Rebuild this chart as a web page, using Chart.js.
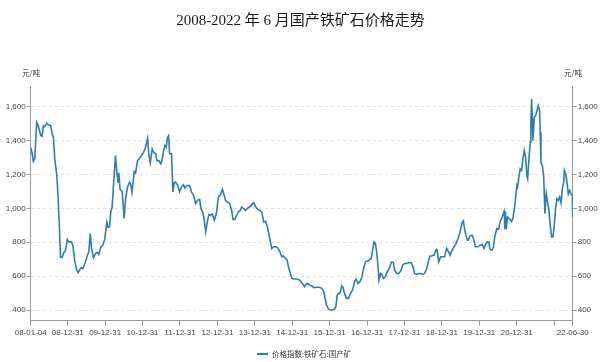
<!DOCTYPE html>
<html lang="zh-CN">
<head>
    <meta charset="UTF-8">
    <title>2008-2022 年 6 月国产铁矿石价格走势</title>
    <script src="https://cdn.jsdelivr.net/npm/chart.js"></script>
    <style>
        body { margin: 0; background: #fff; }
        #wrap { position: relative; width: 601px; height: 362px; overflow: hidden; }
        #chart { position: absolute; left: 0; top: 0; }
        .title { position: absolute; left: 0; top: 12px; width: 601px; text-align: center;
                 font: 15px/16px "Liberation Serif", "Noto Sans CJK SC", serif; color: #1a1a1a; }
        .unit { position: absolute; top: 69px; font: 7.5px/8px "Noto Sans CJK SC", sans-serif; color: #333; }
        .legend-line { position: absolute; left: 257px; top: 353px; width: 11px; height: 2px; background: #2d7db3; }
        .legend-text { position: absolute; left: 272px; top: 350px; font: 7.5px/8px "Noto Sans CJK SC", sans-serif; color: #333; }
    </style>
</head>
<body>
<div id="wrap">
    <canvas id="chart" width="601" height="362"></canvas>
    <div class="title">2008-2022 年 6 月国产铁矿石价格走势</div>
    <div class="unit" style="left:22px">元/吨</div>
    <div class="unit" style="left:564px">元/吨</div>
    <div class="legend-line"></div>
    <div class="legend-text">价格指数:铁矿石:国产矿</div>
</div>

<script>
    // 价格指数:铁矿石:国产矿 (元/吨)
    const dates = [
        '2008-01-04','2008-01-16','2008-01-30','2008-02-12','2008-03-03','2008-03-16','2008-04-11','2008-04-24',
        '2008-05-07','2008-05-20','2008-06-09','2008-06-28','2008-07-18','2008-07-31','2008-08-13','2008-08-26',
        '2008-09-15','2008-09-28','2008-10-11','2008-10-21','2008-11-06','2008-11-19','2008-12-08','2008-12-27',
        '2009-01-10','2009-02-05','2009-02-18','2009-03-09','2009-03-28','2009-04-11','2009-04-30','2009-05-14',
        '2009-05-27','2009-06-16','2009-07-12','2009-07-25','2009-08-07','2009-08-20','2009-09-08','2009-09-28',
        '2009-10-17','2009-10-30','2009-11-19','2009-12-08','2009-12-27','2010-01-16','2010-01-29','2010-02-11',
        '2010-02-24','2010-03-09','2010-03-22','2010-04-11','2010-04-24','2010-05-07','2010-05-13','2010-05-26',
        '2010-06-15','2010-07-04','2010-07-17','2010-08-06','2010-08-26','2010-09-08','2010-09-18','2010-10-11',
        '2010-10-24','2010-11-12','2010-12-02','2010-12-21','2011-01-10','2011-01-29','2011-02-18','2011-03-03',
        '2011-03-16','2011-04-04','2011-04-17','2011-05-07','2011-05-20','2011-06-08','2011-06-28','2011-07-11',
        '2011-07-24','2011-08-06','2011-08-19','2011-09-01','2011-09-11','2011-09-21','2011-10-10','2011-10-23',
        '2011-11-05','2011-11-18','2011-12-07','2011-12-27','2012-01-16','2012-02-04','2012-02-17','2012-03-08',
        '2012-04-03','2012-04-22','2012-05-12','2012-06-01','2012-06-20','2012-07-10','2012-07-23','2012-08-11',
        '2012-08-24','2012-09-07','2012-09-26','2012-10-09','2012-10-22','2012-11-11','2012-12-01','2012-12-20',
        '2013-01-09','2013-01-28','2013-02-17','2013-03-02','2013-03-21','2013-04-10','2013-04-29','2013-05-19',
        '2013-06-01','2013-06-20','2013-07-03','2013-07-23','2013-08-11','2013-08-24','2013-09-13','2013-10-03',
        '2013-10-22','2013-11-11','2013-11-30','2013-12-20','2014-01-09','2014-01-28','2014-02-17','2014-03-08',
        '2014-03-28','2014-04-16','2014-05-06','2014-05-19','2014-06-01','2014-06-14','2014-07-03','2014-07-23',
        '2014-08-11','2014-08-31','2014-09-20','2014-10-03','2014-10-22','2014-11-11','2014-11-24','2014-12-13',
        '2014-12-27','2015-01-15','2015-02-11','2015-03-08','2015-03-28','2015-04-16','2015-04-29','2015-05-12',
        '2015-06-01','2015-06-20','2015-07-10','2015-07-30','2015-08-25','2015-09-20','2015-10-16','2015-11-04',
        '2015-11-17','2015-11-30','2015-12-20','2016-01-09','2016-01-28','2016-02-17','2016-03-01','2016-03-14',
        '2016-03-27','2016-04-09','2016-04-28','2016-05-11','2016-05-24','2016-06-13','2016-07-02','2016-07-22',
        '2016-08-11','2016-08-31','2016-09-13','2016-10-03','2016-10-22','2016-11-11','2016-11-30','2016-12-20',
        '2017-01-08','2017-01-28','2017-02-10','2017-02-23','2017-03-08','2017-03-21','2017-04-03','2017-04-16',
        '2017-04-26','2017-05-12','2017-05-25','2017-06-07','2017-06-27','2017-07-16','2017-08-05','2017-08-25',
        '2017-09-13','2017-09-26','2017-10-16','2017-11-04','2017-11-24','2017-12-13','2018-01-02','2018-01-21',
        '2018-02-10','2018-03-07','2018-03-27','2018-04-09','2018-04-28','2018-05-18','2018-06-07','2018-06-26',
        '2018-07-16','2018-08-05','2018-08-24','2018-09-06','2018-09-26','2018-10-15','2018-11-04','2018-11-14',
        '2018-11-30','2018-12-19','2019-01-08','2019-01-27','2019-02-03','2019-02-16','2019-03-07','2019-03-20',
        '2019-04-09','2019-04-28','2019-05-18','2019-06-07','2019-06-26','2019-07-16','2019-07-29','2019-08-11',
        '2019-08-24','2019-09-06','2019-09-13','2019-10-02','2019-10-22','2019-11-04','2019-11-23','2019-12-19',
        '2020-01-08','2020-01-27','2020-02-16','2020-02-29','2020-03-19','2020-04-01','2020-04-14','2020-05-04',
        '2020-05-17','2020-05-30','2020-06-19','2020-07-08','2020-07-21','2020-08-10','2020-08-30','2020-09-06',
        '2020-09-12','2020-09-19','2020-10-02','2020-10-21','2020-11-10','2020-11-23','2020-12-12','2021-01-01',
        '2021-01-08','2021-01-21','2021-02-03','2021-02-16','2021-03-01','2021-03-14','2021-03-27','2021-04-09',
        '2021-04-16','2021-04-29','2021-05-12','2021-05-18','2021-05-25','2021-06-01','2021-06-07','2021-06-20',
        '2021-07-03','2021-07-16','2021-07-29','2021-08-11','2021-08-17','2021-08-24','2021-09-06','2021-09-19',
        '2021-09-26','2021-10-02','2021-10-15','2021-10-28','2021-11-10','2021-11-23','2021-12-06','2021-12-19',
        '2022-01-01','2022-01-14','2022-01-27','2022-02-10','2022-02-23','2022-03-08','2022-03-21','2022-04-03',
        '2022-04-09','2022-04-22','2022-05-05','2022-05-18','2022-05-31','2022-06-13','2022-06-26','2022-06-30'
    ];
    const prices = [
        1360,1331,1277,1292,1508,1492,1430,1426,
        1488,1484,1502,1492,1488,1439,1420,1292,
        1194,1057,881,712,712,734,751,816,
        802,802,783,691,636,620,642,650,
        645,675,724,747,851,763,708,734,
        740,728,773,783,818,920,888,890,
        979,1008,1135,1312,1214,1155,1210,1110,
        1100,940,1047,1126,1155,1140,1096,1218,
        1210,1282,1296,1312,1331,1361,1414,1312,
        1269,1351,1331,1322,1282,1282,1263,1288,
        1341,1371,1361,1420,1429,1322,1322,1096,
        1151,1155,1139,1100,1126,1139,1120,1135,
        1135,1096,1077,1028,1047,1053,998,975,
        930,861,930,963,959,967,930,969,
        1067,1077,1112,1086,1045,1037,1028,988,
        935,935,955,979,988,1008,998,988,
        1002,1008,1022,1034,1008,994,988,979,
        920,924,881,842,802,763,773,773,
        767,747,714,720,708,694,655,616,
        587,583,583,579,567,551,538,551,
        557,547,542,532,534,534,528,508,
        469,430,406,400,400,406,420,488,
        498,498,543,532,498,469,469,498,
        518,567,583,557,567,596,655,688,
        688,700,704,753,802,794,743,665,
        577,616,610,587,596,626,645,684,
        680,636,616,616,630,665,675,675,
        679,679,649,616,610,616,616,610,
        616,645,694,718,720,724,757,757,
        684,714,714,714,734,763,743,724,
        753,773,792,822,861,914,926,871,
        841,812,812,838,841,822,773,773,
        783,787,763,787,802,802,759,753,
        773,832,881,877,920,949,983,877,
        979,877,949,939,924,939,1018,1135,
        1126,1184,1233,1224,1292,1341,1302,1190,
        1175,1292,1390,1508,1645,1527,1400,1537,
        1547,1576,1606,1576,1449,1273,1253,1198,
        1077,969,1086,1037,988,900,832,832,
        900,998,1057,1047,1067,1034,1116,1155,
        1224,1204,1155,1086,1106,1086,1077,949
    ];

    const tickDates = ['2008-01-04','2008-12-31','2009-12-31','2010-12-31','2011-12-31','2012-12-31','2013-12-31',
                       '2014-12-31','2015-12-31','2016-12-31','2017-12-31','2018-12-31','2019-12-31','2020-12-31',
                       '2021-12-31','2022-06-30'];
    const tickLabels = ['08-01-04','08-12-31','09-12-31','10-12-31','11-12-31','12-12-31','13-12-31',
                        '14-12-31','15-12-31','16-12-31','17-12-31','18-12-31','19-12-31','20-12-31',
                        '','22-06-30'];
    const yTicks = [400, 600, 800, 1000, 1200, 1400, 1600];

    const toTime = d => Date.parse(d + 'T00:00:00Z');
    const points = dates.map((d, i) => ({ x: toTime(d), y: prices[i] }));

    const tickFont = { family: '"Liberation Sans", Arial, sans-serif', size: 8 };
    const yMin = 337, yMax = 1718;

    function yAxis(pos, width, gridOnArea) {
        return {
            position: pos,
            min: yMin,
            max: yMax,
            afterBuildTicks: s => { s.ticks = yTicks.map(v => ({ value: v })); },
            afterFit: s => { s.width = width; },
            ticks: { padding: 1, color: '#444', font: tickFont, callback: v => v.toLocaleString('en-US') },
            grid: { drawOnChartArea: gridOnArea, color: '#e0e0e0', tickColor: '#999', tickLength: 4 },
            border: { color: '#999', dash: [3, 3] }
        };
    }

    new Chart(document.getElementById('chart'), {
        type: 'line',
        data: {
            datasets: [{
                label: '价格指数:铁矿石:国产矿',
                data: points,
                borderColor: '#2d7db3',
                borderWidth: 1.6,
                pointRadius: 0,
                tension: 0,
                fill: false,
                yAxisID: 'y'
            }]
        },
        options: {
            responsive: false,
            animation: false,
            layout: { padding: { top: 86.7, left: 0, right: 0, bottom: 0 } },
            plugins: { legend: { display: false }, tooltip: { enabled: false } },
            scales: {
                x: {
                    type: 'linear',
                    min: toTime(tickDates[0]),
                    max: toTime(tickDates[tickDates.length - 1]),
                    afterBuildTicks: s => { s.ticks = tickDates.map(d => ({ value: toTime(d) })); },
                    afterFit: s => { s.height = 41.3; },
                    ticks: {
                        autoSkip: false, maxRotation: 0, padding: 2, color: '#444', font: tickFont,
                        callback: (v, i) => tickLabels[i]
                    },
                    grid: { drawOnChartArea: false, tickColor: '#999', tickLength: 5 },
                    border: { color: '#999' }
                },
                y: yAxis('left', 30.7, true),
                y2: yAxis('right', 28.3, false)
            }
        }
    });
</script>
</body>
</html>
